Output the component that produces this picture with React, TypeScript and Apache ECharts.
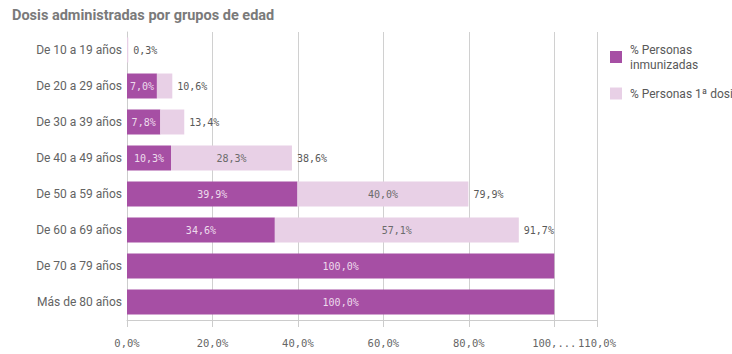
import React, { useEffect, useRef } from 'react';
import * as echarts from 'echarts';

const title = 'Dosis administradas por grupos de edad';
const categories = [
  'De 10 a 19 años',
  'De 20 a 29 años',
  'De 30 a 39 años',
  'De 40 a 49 años',
  'De 50 a 59 años',
  'De 60 a 69 años',
  'De 70 a 79 años',
  'Más de 80 años',
];
const seriesNames = ['% Personas inmunizadas', '% Personas 1ª dosis'];
const inmunizadas = [0, 7.0, 7.8, 10.3, 39.9, 34.6, 100.0, 100.0];
const primeraDosis = [0.3, 3.6, 5.6, 28.3, 40.0, 57.1, 0, 0];
const totales = [0.3, 10.6, 13.4, 38.6, 79.9, 91.7, 100.0, 100.0];
const axisMax = 110;
const axisInterval = 20;

const fmt = (v: number) => v.toFixed(1).replace('.', ',') + '%';
const MONO = '"DejaVu Sans Mono", monospace';
const SANS = 'Roboto, "Noto Sans", sans-serif';

export default function App() {
  const ref = useRef<HTMLDivElement>(null);
  useEffect(() => {
    if (!ref.current) return;
    const chart = echarts.init(ref.current, undefined, { renderer: 'svg' });
    chart.setOption({
      animation: false,
      backgroundColor: '#ffffff',
      title: {
        text: title,
        left: 7,
        top: 3,
        textStyle: { fontFamily: SANS, fontSize: 14.5, fontWeight: 'bold', color: '#7a7a7a' },
      },
      legend: {
        orient: 'vertical',
        left: 605,
        top: 37,
        itemWidth: 12,
        itemHeight: 12,
        itemGap: 14,
        icon: 'rect',
        data: seriesNames,
        formatter: (name: string) => (name === seriesNames[0] ? '% Personas\ninmunizadas' : name),
        textStyle: { fontFamily: SANS, fontSize: 12, color: '#595959', lineHeight: 15, padding: [0, 0, 0, 3] },
      },
      grid: { left: 127, right: 135, top: 32, bottom: 34, containLabel: false },
      xAxis: {
        type: 'value',
        min: 0,
        max: axisMax,
        interval: axisInterval,
        axisLine: { show: true, lineStyle: { color: '#cccccc' } },
        axisTick: { show: true, length: 7, lineStyle: { color: '#cccccc' } },
        splitLine: { show: true, lineStyle: { color: '#d0d0d0' } },
        axisLabel: {
          margin: 17,
          fontFamily: MONO,
          fontSize: 10.5,
          color: '#666666',
          showMaxLabel: true,
          formatter: (v: number) => (v === 100 ? '100,...' : fmt(v)),
        },
      },
      yAxis: {
        type: 'category',
        data: categories,
        inverse: true,
        axisLine: { show: true, lineStyle: { color: '#cccccc' } },
        axisTick: { show: false },
        axisLabel: { fontFamily: SANS, fontSize: 12, color: '#636363', margin: 5 },
      },
      series: [
        {
          name: seriesNames[0],
          type: 'bar',
          stack: 'dosis',
          barWidth: 25,
          barGap: '-100%',
          data: inmunizadas,
          itemStyle: { color: '#a64fa4' },
          label: {
            show: true,
            position: 'inside',
            fontFamily: MONO,
            fontSize: 10,
            color: '#eddcec',
            formatter: (p: any) => (p.value >= 6.5 ? fmt(p.value) : ''),
          },
        },
        {
          name: seriesNames[1],
          type: 'bar',
          stack: 'dosis',
          barWidth: 25,
          barGap: '-100%',
          data: primeraDosis,
          itemStyle: { color: '#e8d0e6' },
          label: {
            show: true,
            position: 'inside',
            fontFamily: MONO,
            fontSize: 10,
            color: '#6b6b6b',
            formatter: (p: any) => (p.value >= 6.5 ? fmt(p.value) : ''),
          },
        },
        {
          name: 'total',
          type: 'bar',
          barWidth: 25,
          barGap: '-100%',
          silent: true,
          data: totales,
          itemStyle: { color: 'rgba(0,0,0,0)' },
          label: {
            show: true,
            position: 'right',
            distance: 5,
            fontFamily: MONO,
            fontSize: 10,
            color: '#595959',
            formatter: (p: any) => (primeraDosis[p.dataIndex] > 0 ? fmt(p.value) : ''),
          },
        },
      ],
    });
    return () => chart.dispose();
  }, []);
  return (
    <div
      ref={ref}
      style={{ position: 'fixed', left: 0, top: 0, width: 732, height: 354 }}
    />
  );
}
